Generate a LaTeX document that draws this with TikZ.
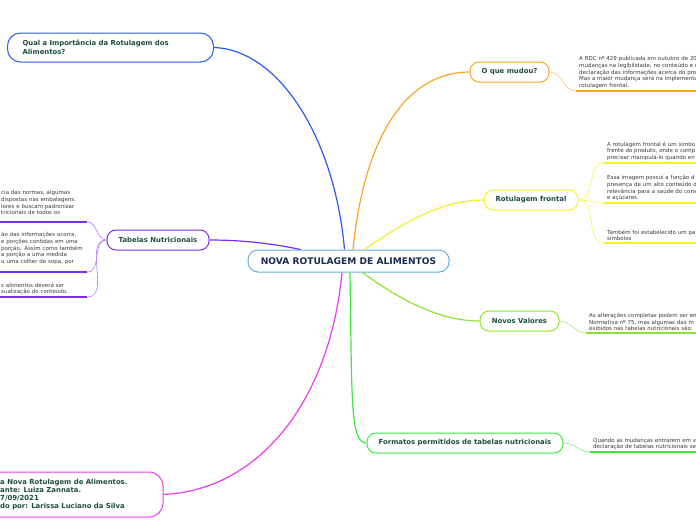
\documentclass[tikz,border=0pt]{standalone}
\usepackage{fontspec}
\setmainfont{DejaVu Sans}
\usetikzlibrary{calc}

\definecolor{textgruen}{HTML}{1E4D40}
\definecolor{textnavy}{HTML}{1C2B4F}
\definecolor{notizgrau}{HTML}{3A3A3A}
\definecolor{zentrumblau}{HTML}{6AAEE0}
\definecolor{astblau}{HTML}{2A5CF0}
\definecolor{astorange}{HTML}{F7A62A}
\definecolor{astgelb}{HTML}{F2F22A}
\definecolor{astlila}{HTML}{7B2FF0}
\definecolor{astlime}{HTML}{8AE62E}
\definecolor{astgruen}{HTML}{3EE63E}
\definecolor{astmagenta}{HTML}{EE3AEE}

\begin{document}
\begin{tikzpicture}[x=1pt, y=-1pt,
    thema/.style={draw, rounded corners=9pt, line width=1pt, fill=white, text=textgruen,
        font=\fontsize{6.9}{8}\selectfont\bfseries, minimum height=20pt, inner sep=0pt},
    notiz/.style={anchor=south west, align=left, text width=200pt, inner xsep=3pt, inner ysep=2pt,
        text=notizgrau, font=\fontsize{5.5}{6.7}\selectfont},
    ast/.style={line width=1.2pt},
    zweig/.style={line width=0.6pt},
    strich/.style={line width=1.6pt}]
    \path[use as bounding box, fill=white] (0,0) rectangle (696,520);

    % Zentrum
    \node[draw=zentrumblau, line width=1pt, rounded corners=10pt, fill=white, minimum width=201pt,
        minimum height=22pt, text=textnavy, font=\fontsize{9.1}{10}\selectfont\bfseries]
        (zentrum) at (348.5,261) {NOVA ROTULAGEM DE ALIMENTOS};

    % Themen
    \node[thema, draw=astblau, rounded corners=13pt, anchor=west, minimum height=29pt, text width=176pt,
        inner xsep=15pt, align=left, font=\fontsize{6.9}{8.5}\selectfont\bfseries]
        (wichtig) at (7,47.5) {Qual a Importância da Rotulagem dos\\Alimentos?};
    \node[thema, draw=astorange, minimum width=79pt] (mudou) at (509.5,72) {O que mudou?};
    \node[thema, draw=astgelb, minimum width=94pt] (frontal) at (531,200) {Rotulagem frontal};
    \node[thema, draw=astlime, minimum width=79pt] (valores) at (519.5,321) {Novos Valores};
    \node[thema, draw=astgruen, minimum width=196pt] (formatos) at (465,443) {Formatos permitidos de tabelas nutricionais};
    \node[thema, draw=astlila, minimum width=102pt] (tabelas) at (158,240) {Tabelas Nutricionais};
    \node[thema, draw=astmagenta, rounded corners=14pt, minimum width=223pt, minimum height=45pt] (fonte) at (51.5,494.5) {};
    \node[anchor=west, align=left, inner sep=0pt, text=textgruen, font=\fontsize{6.9}{7.9}\selectfont\bfseries]
        (fonteTxt) at (0,494.5) {a Nova Rotulagem de Alimentos.\\ante: Luiza Zannata.\\7/09/2021\\do por: Larissa Luciano da Silva};

    % Aeste vom Zentrum
    \draw[ast, astblau] ($(zentrum.north)+(-4,0)$) .. controls (335,140) and (280,50) .. (wichtig.east);
    \draw[ast, astorange] ($(zentrum.north)+(4.5,0)$) .. controls (365,130) and (410,72) .. (mudou.west);
    \draw[ast, astgelb] ($(zentrum.north)+(16,0)$) .. controls (400,225) and (440,200) .. (frontal.west);
    \draw[ast, astlila] ($(zentrum.north)+(-48,0)$) .. controls (270,243) and (240,240) .. (tabelas.east);
    \draw[ast, astlime] ($(zentrum.south)+(14,0)$) .. controls (400,300) and (440,321) .. (valores.west);
    \draw[ast, astgruen] ($(zentrum.south)+(1.5,0)$) .. controls (352,400) and (350,443) .. (formatos.west);
    \draw[ast, astmagenta] ($(zentrum.south)+(-6.5,0)$) .. controls (330,400) and (260,490) .. (fonte.east);

    % Notizen rechts
    \node[notiz] (mudouTxt) at (576,91) {A RDC nº 429 publicada em outubro de 20\\mudanças na legibilidade, no conteúdo e n\\declaração das informações acerca do pro\\Mas a maior mudança será na implementa\\rotulagem frontal.};
    \draw[strich, astorange] (mudouTxt.south west) -- (mudouTxt.south east);
    \draw[zweig, astorange!70] (mudou.east) to[out=0, in=180] (mudouTxt.south west);

    \node[notiz] (frontalA) at (604,163) {A rotulagem frontal é um símbo\\frente do produto, onde o comp\\precisar manipulá-lo quando en};
    \node[notiz] (frontalB) at (604,203) {Essa imagem possui a função d\\presença de um alto conteúdo d\\relevância para a saúde do cons\\e açúcares.};
    \node[notiz] (frontalC) at (604,243) {Também foi estabelecido um pa\\símbolos};
    \foreach \n in {frontalA, frontalB, frontalC} {
        \draw[strich, astgelb] (\n.south west) -- (\n.south east);
        \draw[zweig, astgelb!80] (frontal.east) to[out=0, in=180] (\n.south west);
    }

    \node[notiz] (valoresTxt) at (586,333) {As alterações completas podem ser en\\Normativa nº 75, mas algumas das m\\exibidos nas tabelas nutricionais são:};
    \draw[strich, astlime] (valoresTxt.south west) -- (valoresTxt.south east);
    \draw[zweig, astlime!70] (valores.east) to[out=0, in=180] (valoresTxt.south west);

    \node[notiz] (formatosTxt) at (590,452) {Quando as mudanças entrarem em v\\declaração de tabelas nutricionais ser};
    \draw[strich, astgruen] (formatosTxt.south west) -- (formatosTxt.south east);
    \draw[zweig, astgruen!70] (formatos.east) to[out=0, in=180] (formatosTxt.south west);

    % Notizen links
    \node[notiz, text width=84pt, inner xsep=2pt, inner ysep=7pt] (tabelasA) at (-1,222) {cia das normas, algumas\\dispostas nas embalagens.\\lores e buscam padronizar\\tricionais de todos os};
    \node[notiz, text width=84pt, inner xsep=2pt, inner ysep=7pt] (tabelasB) at (-1,272) {ão das informações ocorra,\\e porções contidas em uma\\porção. Assim como também\\a porção a uma medida\\u uma colher de sopa, por};
    \node[notiz, text width=84pt, inner xsep=2pt] (tabelasC) at (-1,297) {s alimentos deverá ser\\sualização do conteúdo.};
    \foreach \n in {tabelasA, tabelasB, tabelasC} {
        \draw[strich, astlila] (\n.south west) -- (\n.south east);
        \draw[zweig, astlila!60] (tabelas.west) to[out=180, in=0] (\n.south east);
    }
\end{tikzpicture}
\end{document}
